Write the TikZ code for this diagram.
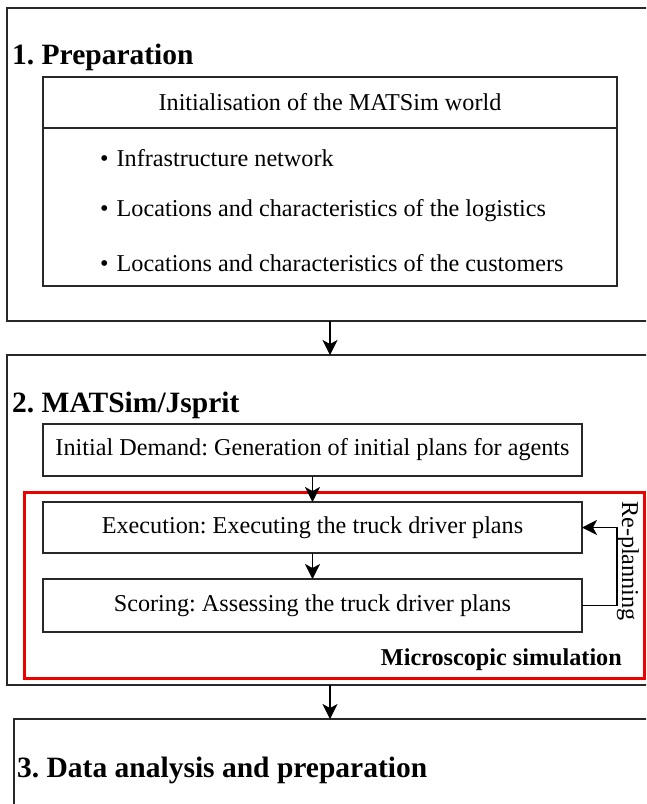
\documentclass[tikz,border=0pt]{standalone}
\usepackage{fontspec}
\setmainfont{Liberation Serif}
\usepackage{tikz}
\usetikzlibrary{arrows.meta,positioning}
\definecolor{figred}{RGB}{236,0,0}
\definecolor{figline}{RGB}{40,40,40}
\newcommand{\bodyfont}{\fontsize{24.2}{28}\selectfont}
\newcommand{\headfont}{\fontsize{29.5}{32}\selectfont\bfseries}
\frenchspacing
\tikzset{
  stagebox/.style={draw=figline,line width=1.6pt,inner sep=0pt,outer sep=0pt,
                   anchor=north west,minimum width=646pt},
  stepbox/.style ={draw=figline,line width=1.4pt,inner sep=0pt,outer sep=0pt,
                   anchor=north west,minimum width=539pt,font=\bodyfont},
  worldbox/.style={stepbox,minimum width=574pt},
  microbox/.style={draw=figred,line width=3pt,inner sep=0pt,outer sep=0pt,
                   anchor=north west},
  headlab/.style ={anchor=west,inner sep=0pt,font=\headfont},
  itemlab/.style ={anchor=west,inner sep=0pt,font=\bodyfont},
  flow/.style    ={draw=black,line width=1.4pt,-{Stealth[length=15pt,width=15pt,inset=4pt]}},
}
\begin{document}
\begin{tikzpicture}[x=1pt,y=-1pt]
  \clip (0,0) rectangle (646,804);
  % stage frames
  \node[stagebox,minimum height=313pt] (prep) at (7,8) {};
  \node[stagebox,minimum height=330pt] (sim) at (7,355) {};
  \node[stagebox,minimum height=120pt] (anal) at (14,719) {};
  \node[headlab] (preplab) at (12,57) {1. Preparation};
  \node[headlab] (simlab) at (12,405) {2. MATSim/Jsprit};
  \node[headlab] (anallab) at (17,770) {3. Data analysis and preparation};
  % 1. preparation
  \node[worldbox,minimum height=51pt] (wtitle) at (43,77) {Initialisation of the MATSim world};
  \node[worldbox,minimum height=158pt] (wlist) at (wtitle.south west) {};
  \node[itemlab] (it1) at (100,158) {\textbullet\hskip 8pt Infrastructure network};
  \node[itemlab] (it2) at (100,211) {\textbullet\hskip 8pt Locations and characteristics of the logistics};
  \node[itemlab] (it3) at (100,263) {\textbullet\hskip 8pt Locations and characteristics of the customers};
  % 2. simulation loop
  \node[microbox,minimum width=620pt,minimum height=186pt] (micro) at (24,492) {};
  \node[anchor=east,inner sep=0pt,font=\bodyfont\bfseries] (microlab) at (622,660) {Microscopic simulation};
  \node[stepbox,minimum height=52pt] (initdem) at (43,424) {Initial Demand: Generation of initial plans for agents};
  \node[stepbox,minimum height=51pt] (exec) at (43,502) {Execution: Executing the truck driver plans};
  \node[stepbox,minimum height=53pt] (score) at (43,579) {Scoring: Assessing the truck driver plans};
  \draw[flow] (initdem) -- (exec);
  \draw[flow] (exec) -- (score);
  \draw[flow] (score.east) -- ++(35,0) coordinate (rp) |- (exec.east);
  \node[rotate=-90,inner sep=0pt,font=\bodyfont] (rplab) at (628,561) {Re-planning};
  % between stages
  \draw[flow] (prep.south -| wtitle.south) -- (sim.north -| wtitle.south);
  \draw[flow] (sim.south -| wtitle.south) -- (anal.north -| wtitle.south);
\end{tikzpicture}
\end{document}
